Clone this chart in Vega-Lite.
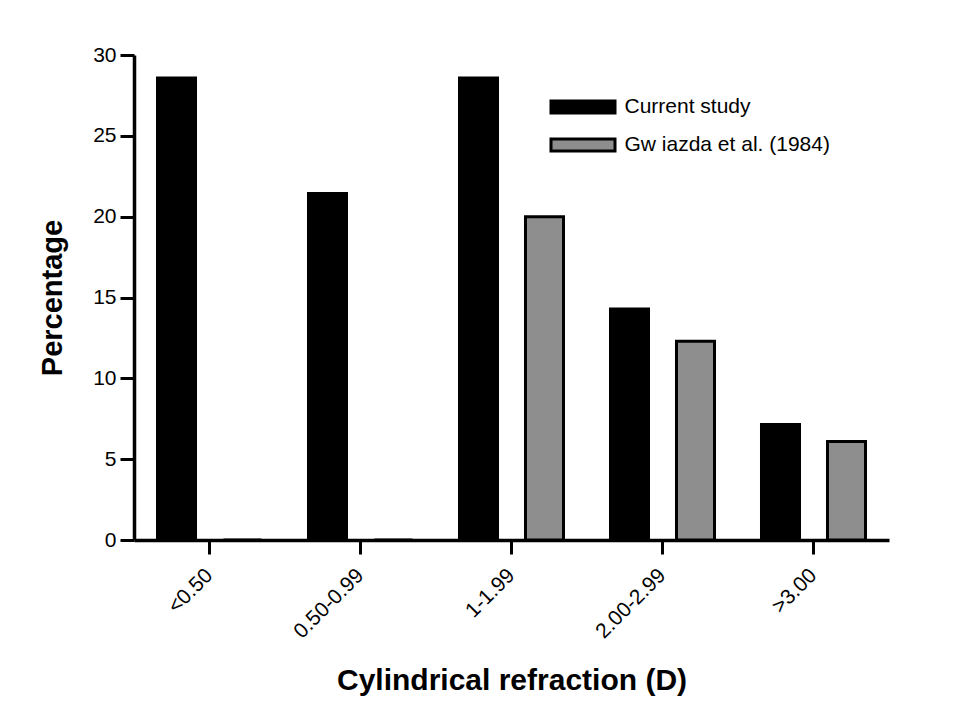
{
  "$schema": "https://vega.github.io/schema/vega-lite/v6.json",
  "width": 755,
  "height": 485,
  "autosize": {"type": "none"},
  "padding": {"left": 134, "top": 55, "right": 82, "bottom": 179},
  "background": "white",
  "config": {
    "font": "Liberation Sans",
    "view": {"stroke": null}
  },
  "data": {
    "values": [
      {"range": "<0.50", "study": "Current study", "pct": 28.57},
      {"range": "<0.50", "study": "Gw iazda et al. (1984)", "pct": 0},
      {"range": "0.50-0.99", "study": "Current study", "pct": 21.43},
      {"range": "0.50-0.99", "study": "Gw iazda et al. (1984)", "pct": 0},
      {"range": "1-1.99", "study": "Current study", "pct": 28.57},
      {"range": "1-1.99", "study": "Gw iazda et al. (1984)", "pct": 20.0},
      {"range": "2.00-2.99", "study": "Current study", "pct": 14.29},
      {"range": "2.00-2.99", "study": "Gw iazda et al. (1984)", "pct": 12.3},
      {"range": ">3.00", "study": "Current study", "pct": 7.14},
      {"range": ">3.00", "study": "Gw iazda et al. (1984)", "pct": 6.1}
    ]
  },
  "mark": {"type": "bar", "stroke": "black", "strokeWidth": 3},
  "encoding": {
    "x": {
      "field": "range",
      "type": "nominal",
      "sort": ["<0.50", "0.50-0.99", "1-1.99", "2.00-2.99", ">3.00"],
      "scale": {"paddingInner": 0, "paddingOuter": 0},
      "axis": {
        "title": "Cylindrical refraction (D)",
        "titleFont": "Liberation Sans",
        "titleFontSize": 30,
        "titleFontWeight": "bold",
        "titleColor": "black",
        "titlePadding": 24,
        "labelAngle": -45,
        "labelAlign": "right",
        "labelBaseline": "middle",
        "labelFontSize": 21,
        "labelColor": "black",
        "labelPadding": 18,
        "domainColor": "black",
        "domainWidth": 3.5,
        "tickColor": "black",
        "tickWidth": 3,
        "tickSize": 14,
        "grid": false
      }
    },
    "xOffset": {
      "field": "study",
      "type": "nominal",
      "scale": {"paddingInner": 0.424, "paddingOuter": 0.356}
    },
    "y": {
      "field": "pct",
      "type": "quantitative",
      "scale": {"domain": [0, 30], "nice": false},
      "axis": {
        "title": "Percentage",
        "titleFont": "Liberation Sans",
        "titleFontSize": 29,
        "titleFontWeight": "bold",
        "titleColor": "black",
        "titlePadding": 25,
        "values": [0, 5, 10, 15, 20, 25, 30],
        "labelFontSize": 21,
        "labelColor": "black",
        "labelPadding": 4,
        "domainColor": "black",
        "domainWidth": 3.5,
        "tickColor": "black",
        "tickWidth": 3,
        "tickSize": 14,
        "grid": false
      }
    },
    "fill": {
      "field": "study",
      "type": "nominal",
      "scale": {"domain": ["Current study", "Gw iazda et al. (1984)"], "range": ["#000000", "#8e8e8e"]},
      "legend": {
        "title": null,
        "orient": "none",
        "legendX": 438.5,
        "legendY": 41.5,
        "symbolType": "M-4,-0.75L4,-0.75L4,0.75L-4,0.75Z",
        "symbolSize": 256,
        "symbolStrokeColor": "black",
        "symbolStrokeWidth": 3,
        "labelFontSize": 21,
        "labelColor": "black",
        "labelOffset": 31,
        "labelLimit": 0,
        "rowPadding": 13,
        "padding": 0
      }
    }
  }
}
